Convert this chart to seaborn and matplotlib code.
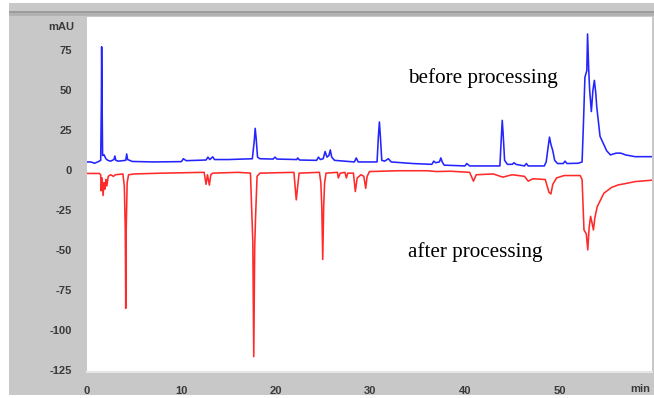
import matplotlib
matplotlib.use("Agg")
import matplotlib.pyplot as plt
from matplotlib.patches import Rectangle
from matplotlib.ticker import MultipleLocator
import seaborn as sns
import pandas as pd

# --- Chromatogram traces (time in min, signal in mAU) ---
before_time = [0.0, 0.4, 0.8, 1.2, 1.45, 1.52, 1.55, 1.6, 1.65, 1.8, 2.0, 2.2, 2.5, 2.85, 2.95, 3.05, 3.3,
               4.1, 4.2, 4.3, 4.5, 4.8, 7.0, 10.0, 10.2, 10.5, 12.6, 12.8, 13.0, 13.3, 13.5, 15.0,
               17.5, 17.7, 17.8, 17.9, 18.05, 18.3, 19.7, 19.9, 20.1, 22.2, 22.3, 22.5,
               24.3, 24.5, 24.7, 25.0, 25.2, 25.4, 25.6, 25.75, 25.9, 26.2, 28.3, 28.5, 28.7,
               30.7, 30.85, 30.95, 31.05, 31.2, 31.5, 31.9, 32.2, 34.5, 36.5, 36.7, 36.9, 37.3,
               37.45, 37.6, 37.8, 40.0, 40.2, 40.5, 43.7, 43.85, 43.95, 44.05, 44.2, 44.5, 45.0,
               45.2, 45.4, 46.3, 46.5, 46.7, 48.4, 48.6, 48.8, 48.95, 49.1, 49.3, 49.5, 49.8,
               50.4, 50.6, 50.8, 52.0, 52.4, 52.55, 52.7, 52.9, 52.98, 53.1, 53.2, 53.38, 53.55,
               53.7, 53.85, 53.95, 54.3, 54.8, 55.0, 55.4, 56.0, 56.5, 57.0, 58.0, 60.0]
before_mau = [5.0, 5.0, 4.2, 5.2, 6.0, 42.0, 77.0, 42.0, 9.0, 9.5, 7.0, 6.0, 5.5, 6.5, 8.7, 6.0, 5.5,
              6.0, 10.0, 6.5, 6.0, 5.3, 5.0, 5.2, 7.0, 5.8, 6.2, 8.0, 6.5, 8.2, 6.5, 6.5,
              7.0, 18.0, 26.0, 20.0, 8.0, 7.0, 6.8, 8.0, 6.8, 6.5, 7.5, 6.2,
              6.0, 8.0, 6.5, 7.0, 11.5, 8.0, 9.0, 12.5, 8.0, 6.0, 5.0, 7.5, 5.0,
              5.0, 22.0, 30.0, 21.0, 6.0, 5.5, 7.0, 5.0, 4.0, 3.5, 5.5, 4.5, 5.0,
              7.5, 5.0, 3.0, 2.5, 4.0, 2.5, 2.5, 20.0, 31.0, 22.0, 6.0, 3.5, 3.5,
              4.5, 3.5, 2.5, 4.0, 2.5, 2.5, 5.0, 14.0, 20.5, 16.0, 12.0, 6.0, 4.0,
              4.0, 5.5, 4.0, 4.2, 5.0, 30.0, 58.0, 62.0, 85.0, 63.0, 50.0, 36.5, 50.0,
              56.0, 48.0, 39.6, 21.0, 14.6, 12.0, 9.4, 10.5, 10.5, 9.4, 8.3, 8.3]

after_time = [0.0, 1.3, 1.45, 1.5, 1.6, 1.7, 1.8, 1.9, 2.0, 2.1, 2.25, 2.5, 2.8, 3.0, 3.8, 3.95, 4.05,
              4.1, 4.15, 4.25, 4.4, 5.0, 8.0, 12.4, 12.6, 12.75, 12.95, 13.1, 13.3, 16.0,
              17.3, 17.45, 17.55, 17.65, 17.75, 17.85, 18.0, 18.3, 21.9, 22.05, 22.15, 22.3, 22.45,
              24.6, 24.75, 24.85, 24.95, 25.05, 25.15, 25.3, 26.5, 26.6, 26.8, 27.3, 27.45, 27.6,
              28.2, 28.4, 28.6, 29.0, 29.3, 29.5, 29.65, 29.9, 33.0, 36.0, 37.0, 38.5, 40.5,
              40.9, 41.2, 43.0, 44.0, 45.0, 46.3, 46.7, 47.2, 48.5, 48.9, 49.1, 49.3, 49.7,
              50.5, 52.2, 52.4, 52.6, 52.85, 53.0, 53.15, 53.3, 53.45, 53.6, 53.75, 54.0,
              54.7, 55.5, 56.2, 57.0, 58.0, 60.0]
after_mau = [-2.2, -2.2, -3.0, -13.0, -5.0, -16.0, -8.0, -12.0, -6.0, -10.0, -4.0, -3.0, -4.0, -3.0,
             -2.5, -10.0, -37.0, -86.5, -37.0, -8.0, -3.0, -2.5, -2.0, -1.5, -9.0, -3.0, -9.5, -3.0,
             -2.0, -1.5, -2.0, -28.0, -45.0, -116.7, -48.0, -28.0, -4.0, -2.0, -1.5, -12.0, -18.7,
             -10.0, -2.0, -1.5, -8.0, -23.0, -56.0, -23.0, -8.0, -2.0, -1.5, -5.0, -2.0, -1.5,
             -5.0, -2.0, -2.0, -13.5, -5.0, -3.0, -4.0, -11.5, -4.0, -1.0, -0.5, -0.5, -1.0,
             -0.8, -1.5, -7.0, -3.0, -2.5, -4.5, -3.0, -4.0, -7.0, -5.5, -6.0, -14.0, -15.0,
             -9.0, -5.0, -3.5, -3.5, -6.0, -37.5, -40.0, -50.0, -36.0, -29.0, -33.0, -37.5,
             -30.0, -23.0, -14.6, -11.0, -9.4, -8.5, -7.3, -6.3]

y_ticks = [-125, -100, -75, -50, -25, 0, 25, 50, 75]
x_ticks = [0, 10, 20, 30, 40, 50]

before_df = pd.DataFrame({"time": before_time, "mAU": before_mau})
after_df = pd.DataFrame({"time": after_time, "mAU": after_mau})

sns.set_style("white")
plt.rcParams["font.family"] = ["Liberation Sans", "DejaVu Sans"]
plt.rcParams["axes.unicode_minus"] = False

W, H = 654, 398
fig = plt.figure(figsize=(W / 100, H / 100), dpi=100)
fig.patch.set_facecolor("white")

# grey instrument-style frame
fig.add_artist(Rectangle((9 / W, 3 / H), (W - 9) / W, 392 / H, transform=fig.transFigure,
                         facecolor="#c8c8c8", edgecolor="none", zorder=0))
fig.add_artist(Rectangle((9 / W, (H - 13) / H), (W - 9) / W, 2 / H, transform=fig.transFigure,
                         facecolor="#9c9c9c", edgecolor="none", zorder=0))
fig.add_artist(Rectangle((9 / W, (H - 16) / H), (W - 9) / W, 3 / H, transform=fig.transFigure,
                         facecolor="#b2b2b2", edgecolor="none", zorder=0))

ax = fig.add_axes([87 / W, 26 / H, 565 / W, 355 / H])
ax.set_facecolor("white")

sns.lineplot(data=before_df, x="time", y="mAU", ax=ax, color="#2424ff", lw=1.15,
             estimator=None, sort=False)
sns.lineplot(data=after_df, x="time", y="mAU", ax=ax, color="#ff2a2a", lw=1.15,
             estimator=None, sort=False)

ax.set_xlim(0, 59.8)
ax.set_ylim(-126.3, 95.6)
ax.set_xticks(x_ticks)
ax.set_yticks(y_ticks)
ax.xaxis.set_minor_locator(MultipleLocator(2))
ax.yaxis.set_minor_locator(MultipleLocator(5))
ax.tick_params(which="both", colors="#e6e6e6", labelcolor="#3a3a3a", labelsize=8, width=1)
ax.tick_params(axis="y", which="major", length=5, pad=6)
ax.tick_params(axis="y", which="minor", length=4)
ax.tick_params(axis="x", which="major", length=3, pad=7)
ax.tick_params(axis="x", which="minor", length=3)
for lab in ax.get_xticklabels() + ax.get_yticklabels():
    lab.set_fontweight("bold")
for s in ["top", "right", "left"]:
    ax.spines[s].set_visible(False)
ax.spines["bottom"].set_color("#e6e6e6")
ax.spines["bottom"].set_linewidth(1.5)
ax.set_xlabel("")
ax.set_ylabel("")

ax.text(-0.023, 89.4, "mAU", transform=ax.get_yaxis_transform(), ha="right", va="center",
        fontsize=8, color="#3a3a3a", fontweight="bold")
ax.text(0.979, -0.048, "min", transform=ax.transAxes, ha="center", va="center",
        fontsize=8, color="#3a3a3a", fontweight="bold")

ax.text(34.0, 54.4, "before processing", family=["Liberation Serif"], fontsize=15.2,
        color="black", va="baseline", ha="left")
ax.text(34.0, -54.4, "after processing", family=["Liberation Serif"], fontsize=15.2,
        color="black", va="baseline", ha="left")

fig.savefig("out.png", dpi=100)
